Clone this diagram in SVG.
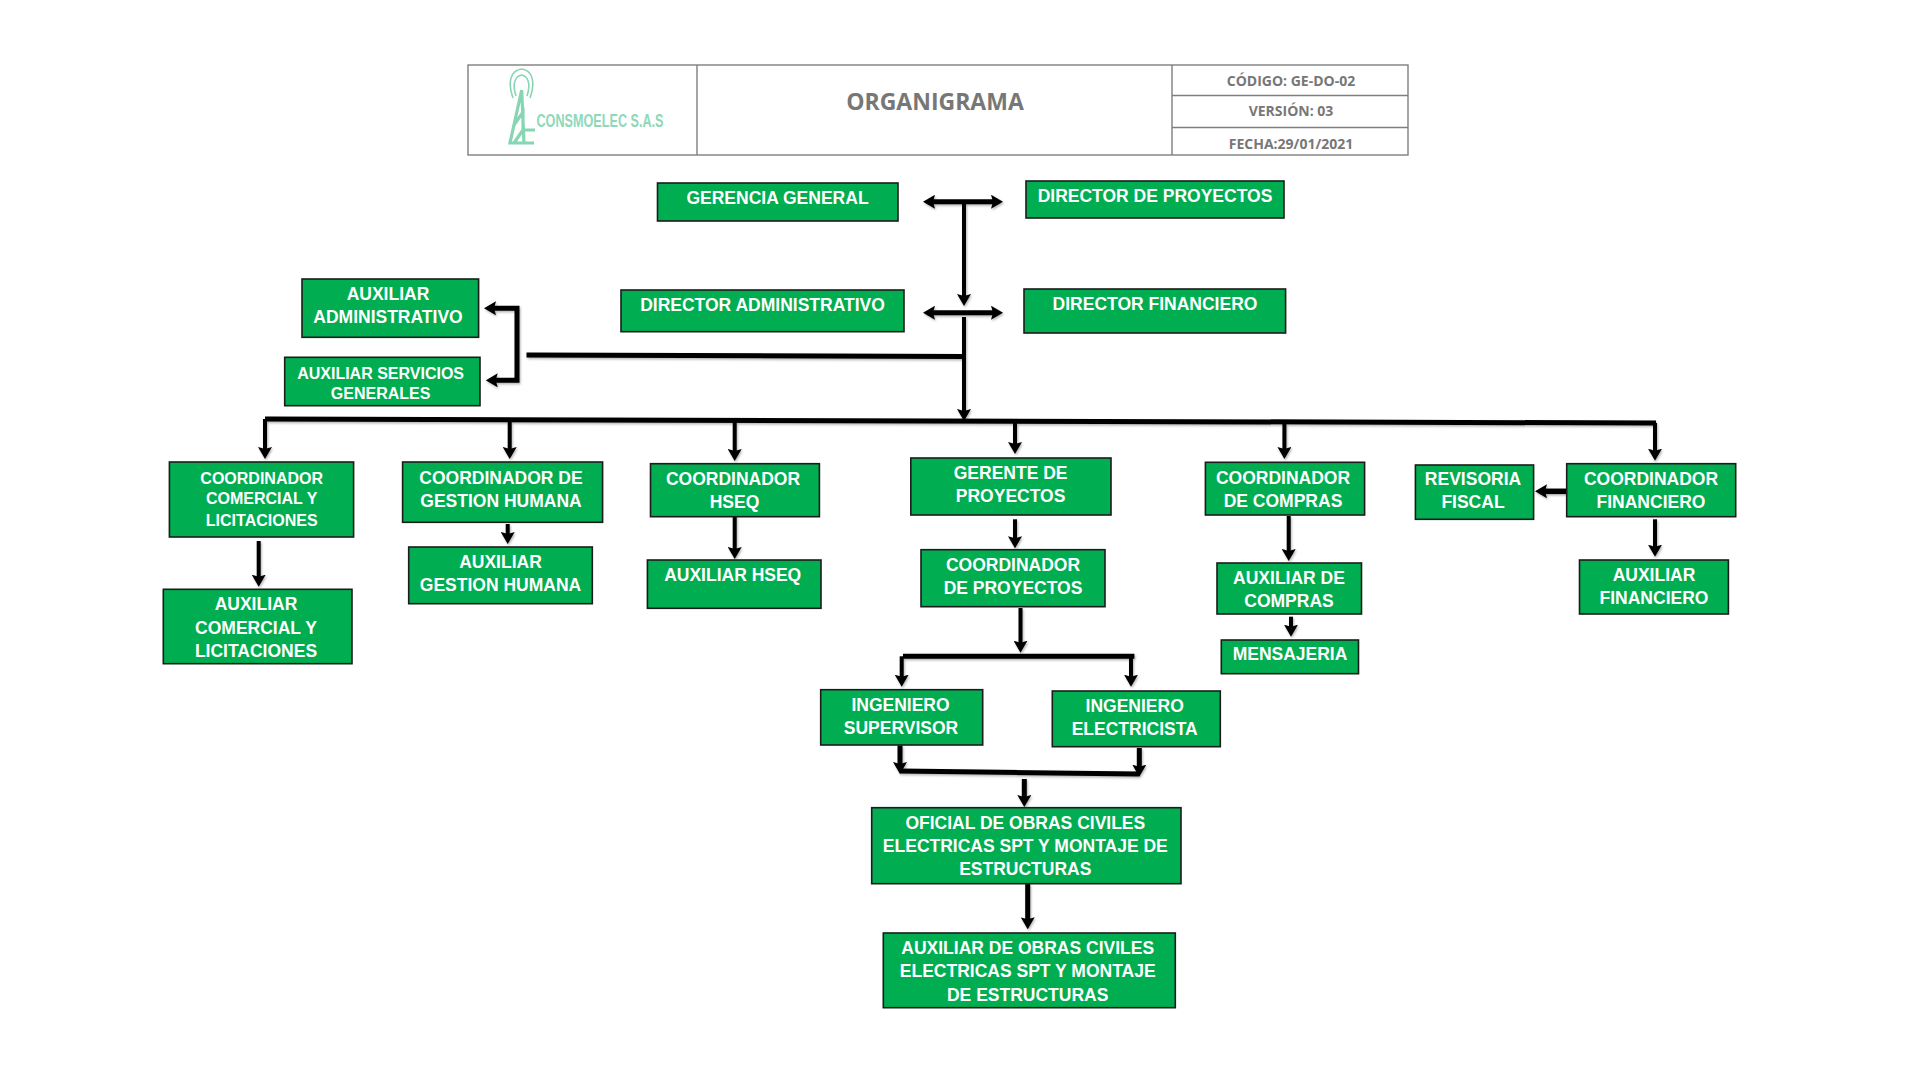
<svg xmlns="http://www.w3.org/2000/svg" width="1920" height="1081" viewBox="0 0 1920 1081">
<style>
.n{fill:#00ad50;stroke:#1c1c1c;stroke-width:1.6}
.t{font-family:"Liberation Sans",Arial,sans-serif;font-weight:700;font-size:17.5px;fill:#fff;text-anchor:middle}
.h{font-family:"Open Sans",sans-serif;font-weight:700;font-size:14px;fill:#777;text-anchor:middle}
.c{fill:none;stroke:#000;stroke-width:4}
.b{stroke-width:5}
.a{marker-end:url(#ah)}
.d{marker-start:url(#ah);marker-end:url(#ah)}
.g{fill:none;stroke:#86d5b3}
</style>
<defs>
<marker id="ah" markerUnits="userSpaceOnUse" viewBox="0 0 12 14" markerWidth="12" markerHeight="14" refX="3" refY="7" orient="auto-start-reverse"><path d="M0 0L12 7L0 14L2 7Z" fill="#000"/></marker>
<filter id="sh" x="-5%" y="-5%" width="110%" height="110%"><feDropShadow dx="1" dy="1.5" stdDeviation="1.2" flood-color="#000" flood-opacity=".3"/></filter>
</defs>
<rect width="1920" height="1081" fill="#fff"/>
<g id="header">
<rect x="468" y="65" width="940" height="90" fill="#fff" stroke="#7f7f7f" stroke-width="1.4"/>
<path d="M697 65V155M1172 65V155M1172 95.5H1408M1172 127.5H1408" fill="none" stroke="#7f7f7f" stroke-width="1.4"/>
<g id="logo">
<path class="g" stroke-width="1.6" d="M513 98C507 82 511 70 521.7 69C532 70 536 82 530 98M516 96C512 84 515 76 521.7 75C528 76 531 84 527 96"/>
<path class="g" stroke-width="3.2" d="M521.7 90L510 143H534M521.7 90L524 143M514 125L523 112L523 130H535M514 143L523 130"/>
<text x="536.5" y="127" font-family="'Liberation Sans',sans-serif" font-size="18.5" font-weight="700" fill="#8fd8b9" textLength="127" lengthAdjust="spacingAndGlyphs">CONSMOELEC S.A.S</text>
</g>
<text x="935" y="109.5" class="h" style="font-size:23px">ORGANIGRAMA</text>
<text x="1291" y="85.5" class="h">CÓDIGO: GE-DO-02</text>
<text x="1291" y="116" class="h">VERSIÓN: 03</text>
<text x="1291" y="148.5" class="h">FECHA:29/01/2021</text>
</g>
<g id="connectors" filter="url(#sh)">
<path class="c b d" d="M932 201.7H994"/>
<path class="c a" d="M964 201.7V297"/>
<path class="c b d" d="M932 312.7H994"/>
<path class="c" d="M964 317V356"/>
<path class="c a" d="M964 356V412"/>
<path class="c b" d="M526.5 355L964 356.5"/>
<path class="c b d" d="M493 308.3H517V380.3H494.7"/>
<path class="c b" d="M265 419L1656 423"/>
<path class="c a" d="M265 419V450"/>
<path class="c a" d="M509.7 420V450"/>
<path class="c a" d="M734.7 420.5V452"/>
<path class="c a" d="M1015 422V445"/>
<path class="c a" d="M1284.4 423V450"/>
<path class="c a" d="M1655 423V451.7"/>
<path class="c a" d="M258.7 541V577.7"/>
<path class="c a" d="M507.7 524V535"/>
<path class="c a" d="M734.7 515V550"/>
<path class="c a" d="M1015 519.3V539.3"/>
<path class="c a" d="M1020.5 608V643.7"/>
<path class="c b" d="M903 656.3H1134.4"/>
<path class="c a" d="M901.7 656.3V677.7"/>
<path class="c a" d="M1131 656.3V677.7"/>
<path class="c b a" d="M900 745.3V765"/>
<path class="c b a" d="M1139.3 748V767.7"/>
<path class="c b" d="M900 771L1139 774"/>
<path class="c b a" d="M1024.3 779V798"/>
<path class="c b a" d="M1027.7 884V920.3"/>
<path class="c a" d="M1288.7 516V552"/>
<path class="c a" d="M1291 616.7V627.7"/>
<path class="c a" style="stroke-width:5.5" d="M1566.7 491.3H1544"/>
<path class="c a" d="M1655 519.3V547.7"/>
</g>
<g id="gerencia-general"><rect class="n" x="657.5" y="183" width="240.5" height="38"/><text class="t" x="777.5" y="204">GERENCIA GENERAL</text></g>
<g id="director-proyectos"><rect class="n" x="1026" y="181" width="258" height="37"/><text class="t" x="1155" y="202.3">DIRECTOR DE PROYECTOS</text></g>
<g id="director-administrativo"><rect class="n" x="621" y="290" width="283" height="41.7"/><text class="t" x="762.5" y="311">DIRECTOR ADMINISTRATIVO</text></g>
<g id="director-financiero"><rect class="n" x="1024" y="289" width="261.6" height="44"/><text class="t" x="1155" y="310.2">DIRECTOR FINANCIERO</text></g>
<g id="auxiliar-administrativo"><rect class="n" x="302" y="279" width="176.6" height="58.3"/><text class="t" x="388" y="300.2">AUXILIAR</text><text class="t" x="388" y="323.2">ADMINISTRATIVO</text></g>
<g id="auxiliar-servicios"><rect class="n" x="284.7" y="357.3" width="195.3" height="48.4"/><text class="t" style="font-size:16px" x="380.6" y="379">AUXILIAR SERVICIOS</text><text class="t" style="font-size:16px" x="380.6" y="399.4">GENERALES</text></g>
<g id="coordinador-comercial"><rect class="n" x="169.4" y="462" width="184.2" height="75"/><text class="t" style="font-size:16px" x="261.7" y="484">COORDINADOR</text><text class="t" style="font-size:16px" x="261.7" y="504.4">COMERCIAL Y</text><text class="t" style="font-size:16px" x="261.7" y="526">LICITACIONES</text></g>
<g id="auxiliar-comercial"><rect class="n" x="163.3" y="589.3" width="188.7" height="74.4"/><text class="t" x="256" y="610.3">AUXILIAR</text><text class="t" x="256" y="633.7">COMERCIAL Y</text><text class="t" x="256" y="656.7">LICITACIONES</text></g>
<g id="coordinador-gestion"><rect class="n" x="402.6" y="462" width="200" height="60.3"/><text class="t" x="501" y="483.9">COORDINADOR DE</text><text class="t" x="501" y="506.9">GESTION HUMANA</text></g>
<g id="auxiliar-gestion"><rect class="n" x="408.7" y="547" width="183.6" height="56.7"/><text class="t" x="500.5" y="568.2">AUXILIAR</text><text class="t" x="500.5" y="591.2">GESTION HUMANA</text></g>
<g id="coordinador-hseq"><rect class="n" x="650.5" y="463.7" width="168.9" height="53"/><text class="t" x="733" y="485.2">COORDINADOR</text><text class="t" x="734.5" y="508">HSEQ</text></g>
<g id="auxiliar-hseq"><rect class="n" x="647.4" y="560" width="173.6" height="48.3"/><text class="t" x="732.7" y="581.2">AUXILIAR HSEQ</text></g>
<g id="gerente-proyectos"><rect class="n" x="910.8" y="458" width="200.2" height="57"/><text class="t" x="1010.6" y="479.2">GERENTE DE</text><text class="t" x="1010.6" y="502.2">PROYECTOS</text></g>
<g id="coordinador-proyectos"><rect class="n" x="921" y="549.7" width="184" height="57"/><text class="t" x="1013" y="570.9">COORDINADOR</text><text class="t" x="1013" y="594.2">DE PROYECTOS</text></g>
<g id="ingeniero-supervisor"><rect class="n" x="820.7" y="689.7" width="162" height="55.3"/><text class="t" x="900.5" y="710.5">INGENIERO</text><text class="t" x="901" y="733.9">SUPERVISOR</text></g>
<g id="ingeniero-electricista"><rect class="n" x="1052.3" y="691" width="168" height="55.7"/><text class="t" x="1134.7" y="712.2">INGENIERO</text><text class="t" x="1134.7" y="735">ELECTRICISTA</text></g>
<g id="oficial-obras"><rect class="n" x="871.7" y="807.7" width="309.3" height="76"/><text class="t" x="1025.3" y="828.9">OFICIAL DE OBRAS CIVILES</text><text class="t" x="1025.3" y="852.2">ELECTRICAS SPT Y MONTAJE DE</text><text class="t" x="1025.3" y="875.2">ESTRUCTURAS</text></g>
<g id="auxiliar-obras"><rect class="n" x="883.3" y="933" width="292" height="74.7"/><text class="t" x="1027.7" y="953.9">AUXILIAR DE OBRAS CIVILES</text><text class="t" x="1027.7" y="977.2">ELECTRICAS SPT Y MONTAJE</text><text class="t" x="1027.7" y="1000.5">DE ESTRUCTURAS</text></g>
<g id="coordinador-compras"><rect class="n" x="1205.4" y="462.3" width="159.2" height="52.7"/><text class="t" x="1283" y="483.9">COORDINADOR</text><text class="t" x="1283" y="506.5">DE COMPRAS</text></g>
<g id="auxiliar-compras"><rect class="n" x="1217" y="563" width="144.5" height="51"/><text class="t" x="1289" y="584.2">AUXILIAR DE</text><text class="t" x="1289" y="607.2">COMPRAS</text></g>
<g id="mensajeria"><rect class="n" x="1221.3" y="640" width="137.2" height="33.7"/><text class="t" x="1290" y="659.9">MENSAJERIA</text></g>
<g id="revisoria-fiscal"><rect class="n" x="1415.4" y="465" width="118.2" height="54.3"/><text class="t" x="1473" y="485.2">REVISORIA</text><text class="t" x="1473" y="508.2">FISCAL</text></g>
<g id="coordinador-financiero"><rect class="n" x="1566.7" y="463.7" width="169" height="53"/><text class="t" x="1651" y="485.2">COORDINADOR</text><text class="t" x="1651" y="508.2">FINANCIERO</text></g>
<g id="auxiliar-financiero"><rect class="n" x="1579.5" y="560" width="148.9" height="54"/><text class="t" x="1654" y="581.2">AUXILIAR</text><text class="t" x="1654" y="604.2">FINANCIERO</text></g>
</svg>
